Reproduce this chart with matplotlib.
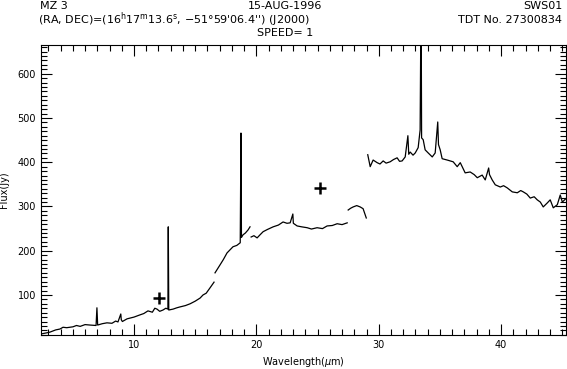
import numpy as np
import matplotlib.pyplot as plt
from matplotlib.ticker import MultipleLocator

# ISO SWS01 spectrum of Mz 3 (one list per detector segment)
wl_a = [2.42, 2.80, 3.13, 3.60, 3.95, 4.20, 4.50, 5.01, 5.30, 5.60, 6.00, 6.40,
        6.90, 6.97, 7.03, 7.40, 7.79, 8.20, 8.50, 8.69, 8.92, 8.96, 9.05, 9.43,
        10.0, 10.49, 10.80, 11.14, 11.50, 11.70, 11.88, 12.10, 12.37, 12.60, 12.77,
        12.80, 12.84, 13.19, 13.50, 13.76, 14.20, 14.58, 15.00, 15.40, 15.64, 15.90,
        16.21, 16.54]
fx_a = [12, 14, 16, 21, 23, 27, 26, 28, 31, 29, 33, 32,
        31, 71, 32, 35, 37, 36, 41, 39, 57, 44, 40, 46,
        50, 55, 58, 64, 61, 70, 68, 63, 66, 70, 68,
        254, 66, 68, 71, 73, 76, 80, 86, 93, 100, 104,
        116, 129]

wl_b = [16.62, 17.03, 17.30, 17.60, 18.09, 18.40, 18.68, 18.74, 18.78, 18.91, 19.10,
        19.32, 19.48]
fx_b = [150, 168, 180, 195, 209, 212, 218, 466, 230, 236, 240, 247, 254]

wl_c = [19.57, 19.80, 20.06, 20.30, 20.55, 20.90, 21.37, 21.80, 22.18, 22.50,
        22.76, 22.98, 23.02, 23.33, 23.70, 24.15, 24.50, 24.96, 25.40, 25.78,
        26.20, 26.60, 27.00, 27.42]
fx_c = [231, 234, 229, 236, 243, 248, 254, 258, 265, 262,
        263, 283, 262, 256, 254, 252, 249, 252, 250, 256,
        257, 261, 259, 263]

wl_d = [27.50, 27.70, 27.91, 28.20, 28.48, 28.72, 28.98]
fx_d = [292, 296, 299, 302, 299, 295, 274]

wl_e = [29.10, 29.30, 29.54, 29.87, 30.10, 30.36, 30.60, 30.93, 31.20, 31.50,
        31.70, 31.91, 32.16, 32.38, 32.45, 32.57, 32.80, 32.98, 33.22, 33.38,
        33.46, 33.50, 33.63, 33.79, 34.04, 34.37, 34.61, 34.82, 34.88, 35.02,
        35.18, 35.59, 36.08, 36.41, 36.66, 37.06, 37.47, 37.80, 38.05, 38.45,
        38.70, 38.98, 39.05, 39.27, 39.52, 39.93, 40.20, 40.50, 40.91, 41.32,
        41.60, 41.81, 42.10, 42.38, 42.70, 42.95, 43.20, 43.44, 43.77, 44.01,
        44.26, 44.59, 44.83, 45.00, 45.30]
fx_e = [417, 390, 405, 399, 396, 403, 398, 401, 406, 410,
        402, 403, 412, 460, 418, 423, 416, 421, 433, 473,
        800, 455, 451, 428, 421, 412, 421, 491, 440, 428,
        408, 405, 401, 390, 399, 376, 378, 372, 365, 371,
        360, 387, 372, 360, 349, 344, 347, 342, 333, 331,
        336, 333, 328, 319, 322, 315, 310, 299, 308, 315,
        297, 304, 326, 310, 318]

# photometry points (+)
phot_wl = [12.05, 25.2]
phot_fx = [94, 342]

plt.rcParams['font.family'] = ['DejaVu Sans']
fig = plt.figure(figsize=(5.67, 3.69), dpi=100)
ax = fig.add_axes([41 / 567, 1 - 335 / 369, 525 / 567, 290 / 369])

for w, f in [(wl_a, fx_a), (wl_b, fx_b), (wl_c, fx_c), (wl_d, fx_d), (wl_e, fx_e)]:
    ax.plot(w, f, color='black', lw=0.9)
ax.plot(phot_wl, phot_fx, '+', color='black', ms=8, mew=1.8)

ax.set_xlim(2.4, 45.3)
ax.set_ylim(9.5, 665)
ax.xaxis.set_major_locator(MultipleLocator(10))
ax.xaxis.set_minor_locator(MultipleLocator(1))
ax.yaxis.set_major_locator(MultipleLocator(100))
ax.yaxis.set_minor_locator(MultipleLocator(10))
ax.tick_params(which='both', direction='in', top=True, right=True, labelsize=7, width=0.8)
ax.tick_params(which='major', length=8)
ax.tick_params(which='minor', length=4)
for s in ax.spines.values():
    s.set_linewidth(0.8)

ax.set_xlabel(r'Wavelength($\mu$m)', fontsize=7, labelpad=4)
ax.set_ylabel('Flux(Jy)', fontsize=7, labelpad=6)

fs = 8
fig.text(40 / 567, 1 - 6 / 369, 'MZ 3', fontsize=fs, va='center', ha='left')
fig.text(285 / 567, 1 - 6 / 369, '15-AUG-1996', fontsize=fs, va='center', ha='center')
fig.text(562 / 567, 1 - 6 / 369, 'SWS01', fontsize=fs, va='center', ha='right')
fig.text(38 / 567, 1 - 20 / 369,
         "(RA, DEC)=(16$^{\\rm h}$17$^{\\rm m}$13.6$^{\\rm s}$, \u221251\u00b059'06.4'') (J2000)",
         fontsize=fs, va='center', ha='left')
fig.text(562 / 567, 1 - 20 / 369, 'TDT No. 27300834', fontsize=fs, va='center', ha='right')
fig.text(285 / 567, 1 - 33 / 369, 'SPEED= 1', fontsize=fs, va='center', ha='center')

fig.savefig('out.png', dpi=100)
